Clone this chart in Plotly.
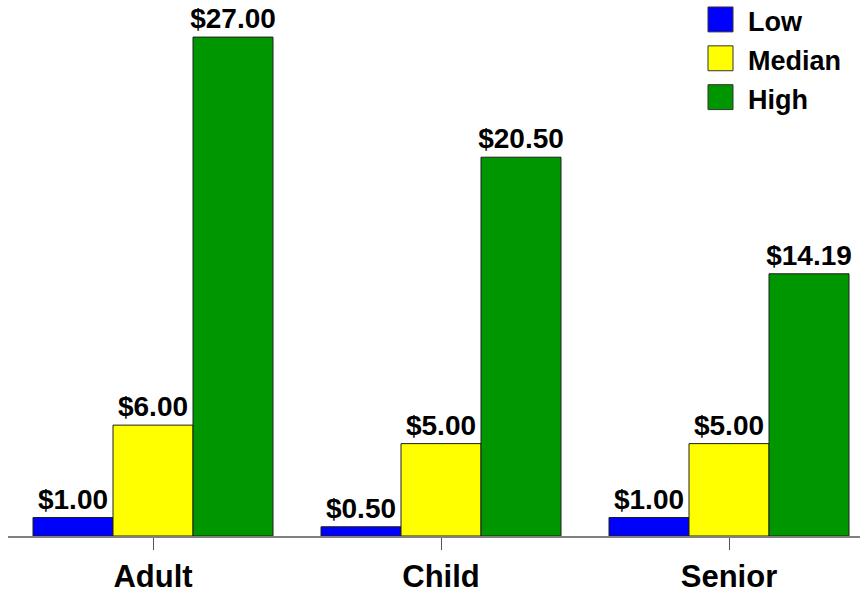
import plotly.graph_objects as go

# Ticket prices by age group
categories = ["Adult", "Child", "Senior"]
series_names = ["Low", "Median", "High"]
low_values = [1.00, 0.50, 1.00]
median_values = [6.00, 5.00, 5.00]
high_values = [27.00, 20.50, 14.19]
series_values = [low_values, median_values, high_values]
series_colors = ["#0000FF", "#FFFF00", "#009600"]

W, H = 860, 594
M_L, M_R, M_T, M_B = 8, 0, 0, 56
FONT = "Liberation Sans, Arial, Helvetica, sans-serif"

fig = go.Figure()
for name, vals, color in zip(series_names, series_values, series_colors):
    fig.add_trace(go.Bar(
        name=name,
        x=categories,
        y=vals,
        marker=dict(color=color, line=dict(color="#1e1e1e", width=1)),
        texttemplate="$%{y:.2f}",
        textposition="outside",
        textfont=dict(family=FONT, size=28, color="black", weight="bold"),
        constraintext="none",
        cliponaxis=False,
        showlegend=False,
    ))

# Legend drawn as swatches + labels in pixel-derived paper coordinates
plot_w = W - M_L - M_R
plot_h = H - M_T - M_B


def px_x(px):
    return (px - M_L) / plot_w


def px_y(py):
    return 1 - (py - M_T) / plot_h


shapes = []
annotations = []
for i, (name, color) in enumerate(zip(series_names, series_colors)):
    top = 7 + 39 * i
    shapes.append(dict(
        type="rect", xref="paper", yref="paper",
        x0=px_x(708), x1=px_x(733), y0=px_y(top + 25), y1=px_y(top),
        fillcolor=color, line=dict(color="#333333", width=1),
    ))
    annotations.append(dict(
        xref="paper", yref="paper", x=px_x(746), y=px_y(top + 15),
        xanchor="left", yanchor="middle", showarrow=False, text=name,
        font=dict(family=FONT, size=27, color="black", weight="bold"),
    ))

fig.update_layout(
    width=W, height=H,
    margin=dict(l=M_L, r=M_R, t=M_T, b=M_B),
    paper_bgcolor="white", plot_bgcolor="white",
    barmode="group", bargap=48 / 288, bargroupgap=0,
    shapes=shapes, annotations=annotations,
    xaxis=dict(
        range=[-145 / 288, 707 / 288],
        showgrid=False, zeroline=False,
        showline=True, linecolor="#808080", linewidth=2,
        ticks="outside", ticklen=12, tickwidth=1, tickcolor="#555555",
        tickfont=dict(family=FONT, size=31, color="black", weight="bold"),
    ),
    yaxis=dict(range=[0, 537.5 / 18.53], visible=False, showgrid=False),
)

fig.write_html("out.html")
